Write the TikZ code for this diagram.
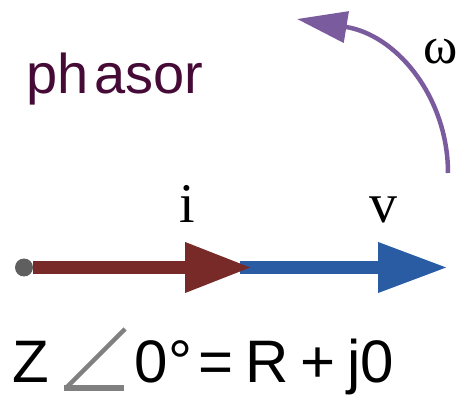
\documentclass[tikz,border=0pt]{standalone}
\usepackage{fontspec}
\setmainfont{Liberation Sans}
\newfontfamily\serifface{Liberation Serif}
\usetikzlibrary{arrows.meta}
\definecolor{arcpurple}{RGB}{122,92,158}
\definecolor{ired}{RGB}{119,42,39}
\definecolor{vblue}{RGB}{42,92,164}
\definecolor{dotgray}{RGB}{95,95,95}
\definecolor{anglegray}{RGB}{128,128,128}
\definecolor{phasortext}{RGB}{70,10,55}
\begin{document}
\begin{tikzpicture}[x=1pt,y=-1pt,
  lbl/.style={inner sep=0pt, anchor=base west},
  sanslbl/.style={lbl, font=\fontsize{60}{60}\selectfont},
  seriflbl/.style={inner sep=0pt, anchor=base, font=\serifface\fontsize{56}{56}\selectfont},
  phasorarrow/.style={line width=13pt},
]
\useasboundingbox (0,0) rectangle (459,396);

% title
\node[lbl, font=\fontsize{56}{56}\selectfont, text=phasortext] (phasor) at (26,94) {ph\kern6pt asor};

% rotation arc
\coordinate (arcstart) at (448,173);
\coordinate (arcend) at (349,27.5);
\coordinate (arctip) at (297,19);
\draw[arcpurple, line width=4.5pt] (arcstart) .. controls (448,100) and (400,38) .. (arcend);
\draw[arcpurple, line width=4.5pt, -{Triangle[length=50pt,width=31pt]}] (arcend) -- (arctip);
\node[inner sep=0pt, anchor=base east, font=\serifface\fontsize{52}{52}\selectfont] (omega) at (458,64) {ω};

% phasors
\node[circle, fill=dotgray, minimum size=18pt, inner sep=0pt] (dot) at (24,267.5) {};
\coordinate (vstart) at (240,267.5);
\coordinate (vtip) at (448,267.5);
\coordinate (itip) at (252,267.5);
\draw[vblue, phasorarrow, -{Triangle[length=70pt,width=47pt]}] (vstart) -- (vtip);
\draw[ired, phasorarrow, -{Triangle[length=67pt,width=47pt]}] (dot.east) -- (itip);

\node[seriflbl] (ilabel) at (187,223) {i};
\node[seriflbl] (vlabel) at (383,223) {v};

% impedance
\node[sanslbl] (Z) at (12,383) {Z};
\draw[anglegray, line width=4.5pt] (67,387) -- (125,329);
\draw[anglegray, line width=6pt] (64,388) -- (124,388);
\node[sanslbl] (rhs) at (134.5,383) {\spaceskip=12pt 0°\hspace{-6pt} = R + j0};
\end{tikzpicture}
\end{document}
